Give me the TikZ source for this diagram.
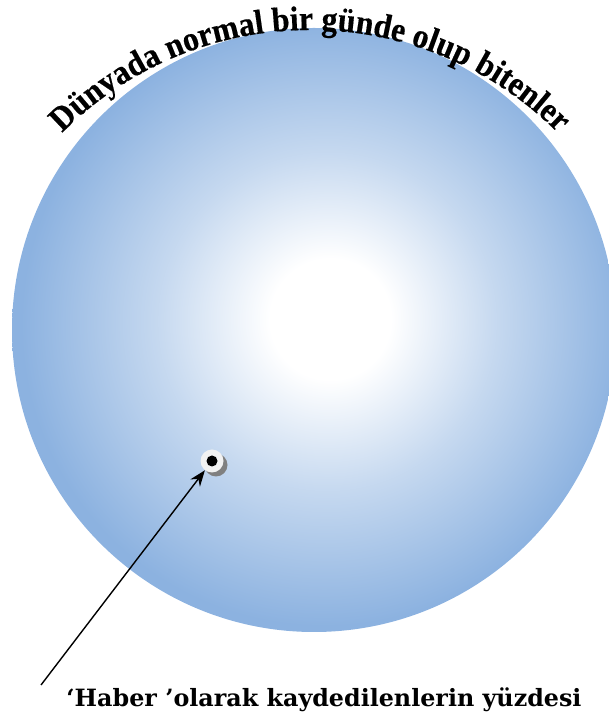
\documentclass[tikz,border=0pt]{standalone}
\usepackage{fontspec}
\setmainfont{Liberation Serif}
\newfontfamily\titlefont[FakeStretch=0.92,FakeBold=0.4]{Liberation Serif}
\newfontfamily\captionfont{DejaVu Serif}
\usepackage{xcolor}
\definecolor{globeblue}{HTML}{8CB2E0}
\definecolor{markerwhite}{HTML}{F2F2F2}
\definecolor{shadowgray}{HTML}{808080}
\usepackage{tikz}
\usetikzlibrary{arrows.meta,decorations.text,calc}
\pgfdeclareradialshading{globeshade}{\pgfpoint{1.5bp}{1bp}}{%
  color(0bp)=(white); color(5bp)=(white); color(14bp)=(globeblue!50);
  color(25bp)=(globeblue); color(50bp)=(globeblue)}

\begin{document}
\begin{tikzpicture}[x=1pt,y=1pt,
  marker/.style={circle,fill=markerwhite,minimum size=23pt,inner sep=0pt},
  markershadow/.style={circle,fill=shadowgray,minimum size=23pt,inner sep=0pt},
  caption/.style={font=\captionfont\bfseries\fontsize{23.8}{26}\selectfont,anchor=base},
  arrow/.style={-{Stealth[length=16pt,width=12pt]},line width=1.4pt}
]
\useasboundingbox (0,0) rectangle (609,720);
\clip (0,0) rectangle (609,720);

% globe
\shade[shading=globeshade] (314,390) circle (302);

% curved title
\path[decorate,decoration={text along path,text align=center,
  text={|\titlefont\bfseries\fontsize{34.5}{38}\selectfont|Dünyada normal bir günde olup bitenler}}]
  (310,340)+(137:350) arc[start angle=137,end angle=43,radius=350];

% marker
\node[markershadow] (shadow) at (216,255) {};
\node[marker] (dot) at (212,259) {};
\fill (dot.center) circle (5.5);

% pointer and caption
\coordinate (tail) at (41,35);
\draw[arrow] (tail) -- (dot);
\node[caption] (haber) at (324,13) {‘Haber ’olarak kaydedilenlerin yüzdesi};
\end{tikzpicture}
\end{document}
